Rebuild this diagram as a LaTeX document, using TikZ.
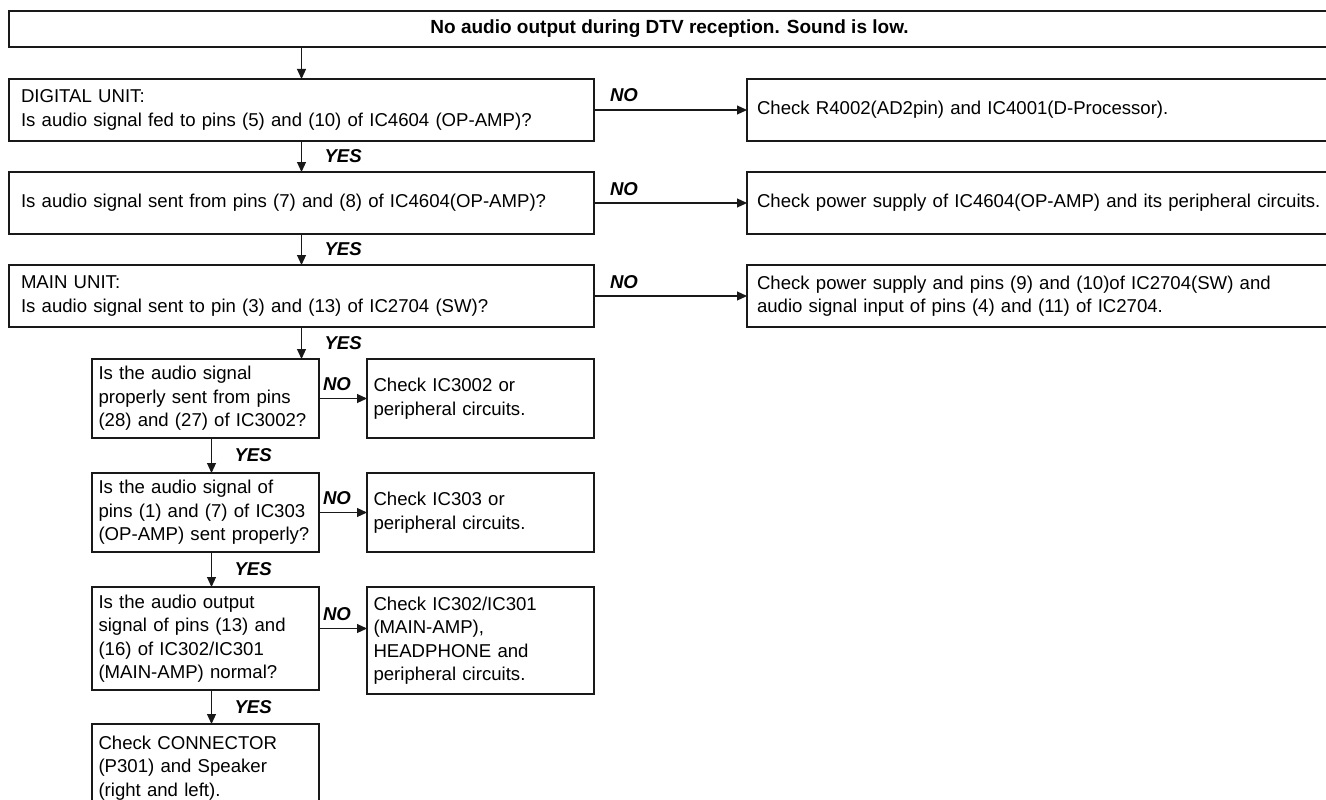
\documentclass[tikz,border=0pt]{standalone}
\usepackage{fontspec}
\setmainfont{Liberation Sans}
\usetikzlibrary{arrows.meta,positioning}

\begin{document}
\begin{tikzpicture}[
    x=1pt, y=-1pt,
    every node/.style={outer sep=0pt},
    box/.style={rectangle, draw=black!90, line width=1.1pt, font=\fontsize{18.6}{23.5}\selectfont, align=left},
    titlebox/.style={rectangle, draw=black!90, line width=1.9pt, minimum width=1321pt, minimum height=36pt, inner sep=0pt, font=\fontsize{19}{22}\selectfont\bfseries},
    qbox/.style={box, text width=561pt, inner xsep=12pt, inner ysep=0pt, minimum height=62pt},
    rbox/.style={box, text width=600pt, inner xsep=10pt, inner ysep=0pt, minimum height=62pt},
    sbox/.style={box, text width=214pt, inner xsep=6.5pt, inner ysep=0pt, minimum height=79pt},
    cbox/.style={box, text width=214pt, inner xsep=6.5pt, inner ysep=0pt, minimum height=79pt},
    yes/.style={font=\fontsize{18.6}{22}\selectfont\bfseries\itshape, inner sep=0pt, anchor=west, xshift=23pt},
    no/.style={font=\fontsize{18.6}{22}\selectfont\bfseries\itshape, inner sep=0pt, anchor=base west, yshift=8pt},
    arrow/.style={line width=1.1pt, draw=black!90, -{Triangle[length=10pt,width=9pt]}}
]
\useasboundingbox (0,0) rectangle (1326,800);

% --- TITLE ---
\node (title) [titlebox, anchor=north west] at (9,11) {No audio output during DTV reception. Sound is low.};

% --- MAIN CHECKS ---
\node (digital) [qbox, below=32pt of title.south west, anchor=north west] {DIGITAL UNIT:\\Is audio signal fed to pins (5) and (10) of IC4604 (OP-AMP)?};
\node (opamp)   [qbox, below=31pt of digital] {Is audio signal sent from pins (7) and (8) of IC4604(OP-AMP)?};
\node (mainsw)  [qbox, below=31pt of opamp] {MAIN UNIT:\\Is audio signal sent to pin (3) and (13) of IC2704 (SW)?};

\node (chk_dproc) [rbox, right=153pt of digital] {Check R4002(AD2pin) and IC4001(D-Processor).};
\node (chk_opamp) [rbox, right=153pt of opamp] {Check power supply of IC4604(OP-AMP) and its peripheral circuits.};
\node (chk_sw)    [rbox, right=153pt of mainsw] {Check power supply and pins (9) and (10)of IC2704(SW) and\\audio signal input of pins (4) and (11) of IC2704.};

% --- MAIN UNIT CHECKS ---
\node (ic3002) [sbox, below=32pt of mainsw.south west, anchor=north west, xshift=83pt] {Is the audio signal\\properly sent from pins\\(28) and (27) of IC3002?};
\node (ic303)  [sbox, below=35pt of ic3002] {Is the audio signal of\\pins (1) and (7) of IC303\\(OP-AMP) sent properly?};
\node (mainamp) [sbox, below=35pt of ic303, minimum height=103pt] {Is the audio output\\signal of pins (13) and\\(16) of IC302/IC301\\(MAIN-AMP) normal?};
\node (speaker) [sbox, below=34pt of mainamp, minimum height=88pt] {Check CONNECTOR\\(P301) and Speaker\\(right and left).};

\node (chk_ic3002)  [cbox, right=48pt of ic3002] {Check IC3002 or\\peripheral circuits.};
\node (chk_ic303)   [cbox, right=48pt of ic303] {Check IC303 or\\peripheral circuits.};
\node (chk_mainamp) [cbox, right=48pt of mainamp.north east, anchor=north west, minimum height=107pt] {Check IC302/IC301\\(MAIN-AMP),\\HEADPHONE and\\peripheral circuits.};

% --- YES PATH ---
\draw [arrow] (digital.north |- title.south) -- (digital.north);
\draw [arrow] (digital) -- node[yes] {YES} (opamp);
\draw [arrow] (opamp) -- node[yes] {YES} (mainsw);
\draw [arrow] (mainsw.south) -- node[yes] {YES} (mainsw.south |- ic3002.north);
\draw [arrow] ([xshift=6pt]ic3002.south) -- node[yes] {YES} ([xshift=6pt]ic303.north);
\draw [arrow] ([xshift=6pt]ic303.south) -- node[yes] {YES} ([xshift=6pt]mainamp.north);
\draw [arrow] ([xshift=6pt]mainamp.south) -- node[yes] {YES} ([xshift=6pt]speaker.north);

% --- NO PATH ---
\draw [arrow] (digital) -- node[no, pos=0, xshift=16pt] {NO} (chk_dproc);
\draw [arrow] (opamp) -- node[no, pos=0, xshift=16pt] {NO} (chk_opamp);
\draw [arrow] (mainsw) -- node[no, pos=0, xshift=16pt] {NO} (chk_sw);
\draw [arrow] (ic3002) -- node[no, pos=0, xshift=4pt] {NO} (chk_ic3002);
\draw [arrow] (ic303) -- node[no, pos=0, xshift=4pt] {NO} (chk_ic303);
\draw [arrow] ([yshift=10pt]mainamp.east) -- node[no, pos=0, xshift=4pt] {NO} ([yshift=10pt]mainamp.east -| chk_mainamp.west);

\end{tikzpicture}
\end{document}
